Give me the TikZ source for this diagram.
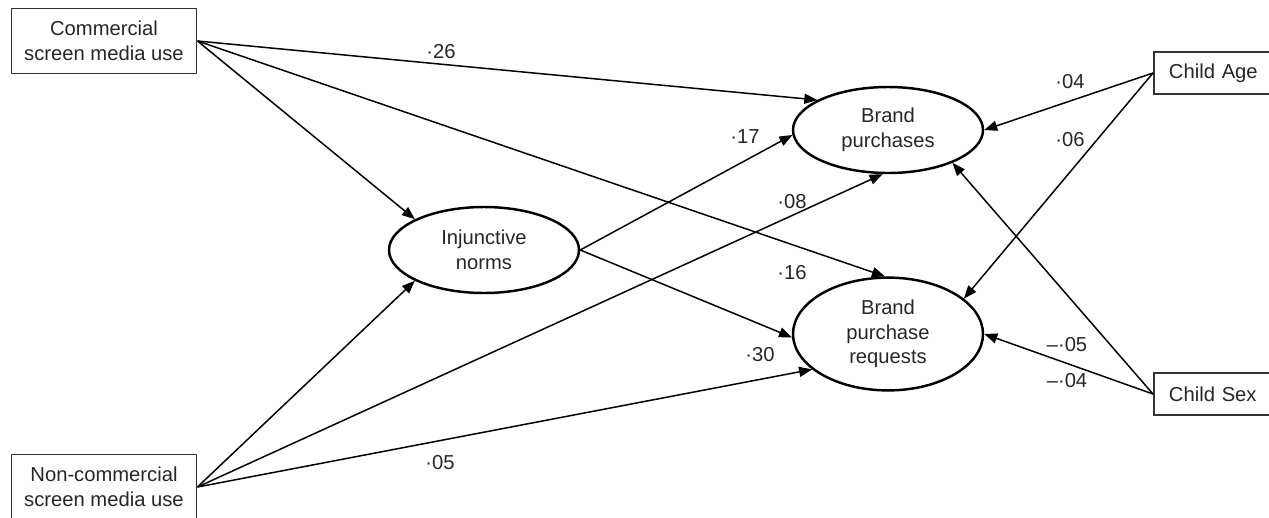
\documentclass[tikz,border=0pt]{standalone}
\usepackage{fontspec}
\setmainfont{Liberation Sans}
\usetikzlibrary{shapes.geometric,arrows.meta}
\tikzset{
  every node/.style={font=\fontsize{11.5}{14}\selectfont, text=black!85},
  media/.style={draw=black!80, line width=1.1pt, minimum width=3.7cm, minimum height=1.3cm, align=center},
  child/.style={draw=black!80, line width=1.1pt, anchor=west, minimum height=0.84cm, text width=2.4cm, inner xsep=3mm, align=left},
  latent/.style={draw, ellipse, line width=1.4pt, minimum width=3.8cm, minimum height=1.72cm, align=center},
  path/.style={line width=0.85pt, -{Triangle[length=2.6mm,width=2mm]}},
  coef/.style={inner sep=1pt}
}
\begin{document}
\begin{tikzpicture}[x=0.2mm, y=-0.2mm]
    \useasboundingbox (0, 0) rectangle (1269, 517);

    \node [media] (com) at (104, 41) {Commercial\\screen media use};
    \node [media] (noncom) at (104, 487) {Non-commercial\\screen media use};
    \node [latent] (inj) at (484, 250) {Injunctive\\norms};
    \node [latent] (bp) at (888, 130) {Brand\\purchases};
    \node [latent, minimum height=1.76cm] (bpr) at (888, 334) {Brand\\purchase\\requests};
    \node [child] (age) at (1153, 73) {Child Age};
    \node [child] (sex) at (1153, 394) {Child Sex};

    \draw [path] (com.east) -- (bp.157);
    \draw [path] (com.east) -- (inj.156);
    \draw [path] (com.east) -- (bpr.93);
    \draw [path] (noncom.east) -- (inj.204);
    \draw [path] (noncom.east) -- (bp.-97);
    \draw [path] (noncom.east) -- (bpr.205);
    \draw [path] (inj.east) -- (bp.183);
    \draw [path] (inj.east) -- (bpr.182);
    \draw [path] (age.west) -- (bp.east);
    \draw [path] (age.west) -- (bpr.25);
    \draw [path] (sex.west) -- (bp.-27);
    \draw [path] (sex.west) -- (bpr.east);

    \node [coef] (c26) at (441, 52) {·26};
    \node [coef] (c17) at (745, 137) {·17};
    \node [coef] (c08) at (792, 202) {·08};
    \node [coef] (c16) at (792, 273) {·16};
    \node [coef] (c30) at (760, 355) {·30};
    \node [coef] (c05) at (440, 463) {·05};
    \node [coef] (c04) at (1070, 82) {·04};
    \node [coef] (c06) at (1070, 140) {·06};
    \node [coef] (cm05) at (1067, 345) {–·05};
    \node [coef] (cm04) at (1067, 381) {–·04};
\end{tikzpicture}
\end{document}
